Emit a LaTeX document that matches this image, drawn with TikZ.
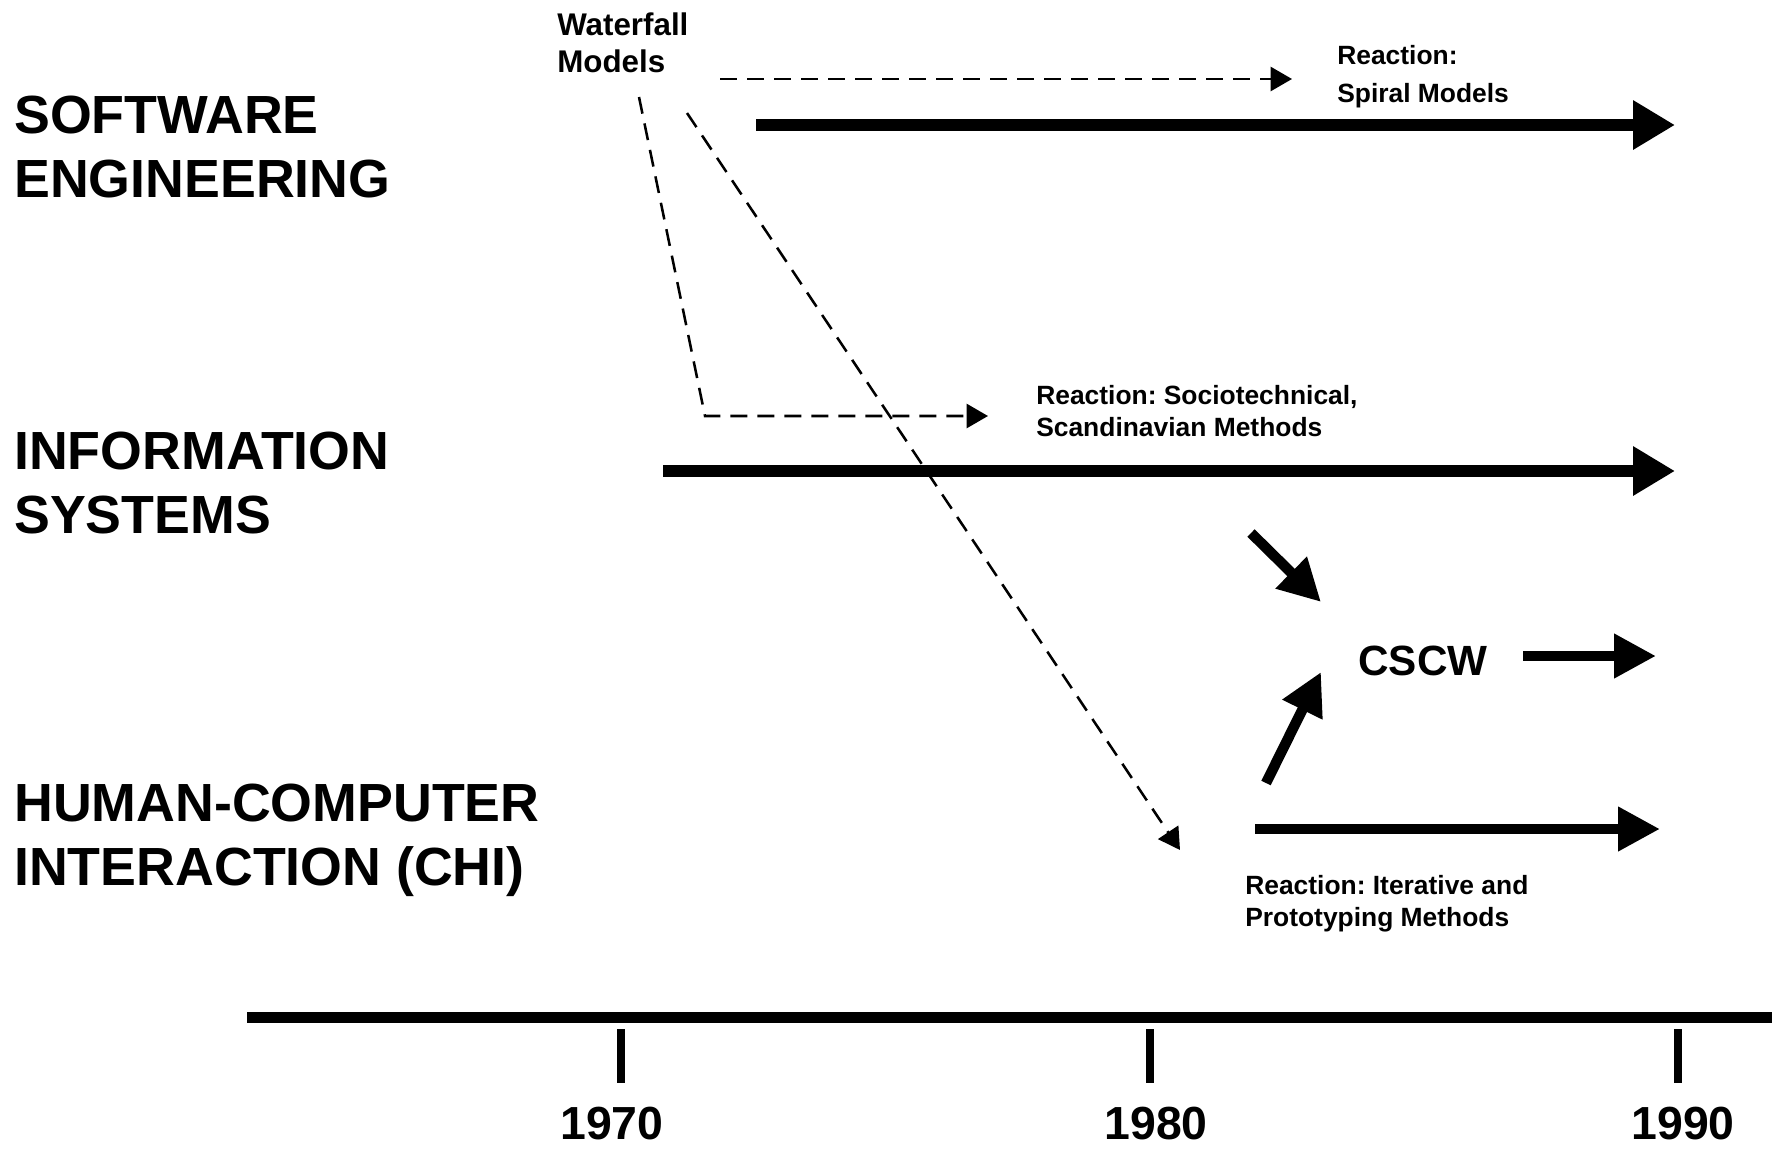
\documentclass[tikz,border=0pt]{standalone}
\usepackage{fontspec}
\setmainfont{Liberation Sans}
\usetikzlibrary{arrows.meta}
\frenchspacing
\begin{document}
\begin{tikzpicture}[x=0.75pt,y=-0.75pt,
  biglabel/.style={font=\bfseries\fontsize{40.3}{47.3}\selectfont, align=left, anchor=base west, inner sep=0pt},
  wflabel/.style={font=\bfseries\fontsize{23.5}{27.8}\selectfont, align=left, anchor=base west, inner sep=0pt},
  smalllabel/.style={font=\bfseries\fontsize{19.8}{23.3}\selectfont, align=left, anchor=base west, inner sep=0pt},
  yearlabel/.style={font=\bfseries\fontsize{34.8}{40}\selectfont, anchor=base, inner sep=0pt},
  bigarrow/.style={line width=9pt, -{Triangle[length=31.5pt,width=35pt]}},
  midarrow/.style={line width=7.8pt, -{Triangle[length=31.5pt,width=31.5pt]}},
  dasharrow/.style={line width=1.9pt, dash pattern=on 12.75pt off 7.5pt, -{Triangle[length=16pt,width=18pt]}},
  axisline/.style={line width=8.25pt},
  tickline/.style={line width=6pt}
]
\useasboundingbox (0,0) rectangle (1777,1153);

% track labels (anchor = baseline of last line)
\node[biglabel] (se) at (14,197) {SOFTWARE\\ENGINEERING};
\node[biglabel] (is) at (14,533) {INFORMATION\\SYSTEMS};
\node[biglabel] (hci) at (14,885) {HUMAN-COMPUTER\\INTERACTION (CHI)};

% other labels
\node[wflabel] (wf) at (557,72.5) {Waterfall\\Models};
\node[smalllabel, font=\bfseries\fontsize{19.8}{27.8}\selectfont] (spiral) at (1337,102) {Reaction:\\Spiral Models};
\node[smalllabel] (socio) at (1036,436) {Reaction: Sociotechnical,\\Scandinavian Methods};
\node[smalllabel] (iter) at (1245,926) {Reaction: Iterative and\\Prototyping Methods};
\node[font=\bfseries\fontsize{31.7}{36}\selectfont, anchor=base, inner sep=0pt] (cscw) at (1423,675) {CSCW};

% coordinates
\coordinate (wfA) at (720,79);   \coordinate (wfAend) at (1292,79);
\coordinate (wfB) at (639,97);   \coordinate (wfBcorner) at (705,416); \coordinate (wfBend) at (988,416);
\coordinate (wfC) at (687,113);  \coordinate (wfCend) at (1180,850);
\coordinate (seS) at (756,125);  \coordinate (seE) at (1675,125);
\coordinate (isS) at (663,471);  \coordinate (isE) at (1675,471);
\coordinate (isC) at (1251,533); \coordinate (isCend) at (1321,602);
\coordinate (hcC) at (1266,783); \coordinate (hcCend) at (1321,672);
\coordinate (csS) at (1523,656); \coordinate (csE) at (1656,656);
\coordinate (hcS) at (1255,829); \coordinate (hcE) at (1660,829);

% dashed influences
\draw[dasharrow] (wfA) -- (wfAend);
\draw[dasharrow] (wfB) -- (wfBcorner) -- (wfBend);
\draw[dasharrow] (wfC) -- (wfCend);

% main tracks
\draw[bigarrow] (seS) -- (seE);
\draw[bigarrow] (isS) -- (isE);
\draw[midarrow] (hcS) -- (hcE);

% CSCW
\draw[midarrow] (isC) -- (isCend);
\draw[midarrow] (hcC) -- (hcCend);
\draw[midarrow] (csS) -- (csE);

% time axis
\coordinate (axS) at (247,1017); \coordinate (axE) at (1772,1017);
\draw[axisline] (axS) -- (axE);
\foreach \x/\lx/\yr in {621/612/1970,1150/1156/1980,1678/1683/1990}{
  \coordinate (t\yr a) at (\x,1029);
  \coordinate (t\yr b) at (\x,1083);
  \draw[tickline] (t\yr a) -- (t\yr b);
  \node[yearlabel] (y\yr) at (\lx,1139) {\yr};
}
\end{tikzpicture}
\end{document}
